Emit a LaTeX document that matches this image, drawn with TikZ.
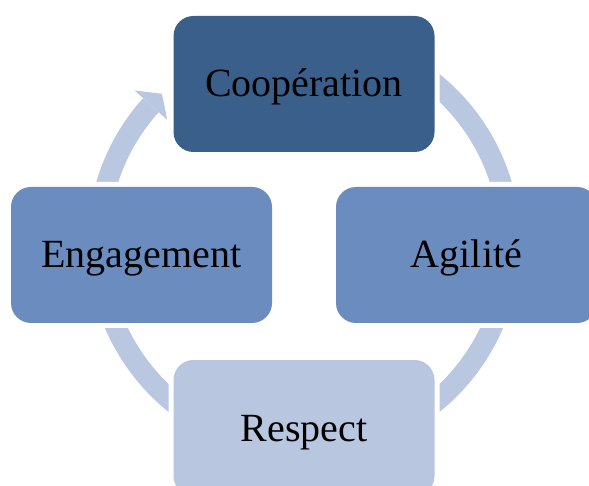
\documentclass[tikz,border=0pt]{standalone}
\usepackage{fontspec}
\setmainfont{Liberation Serif}
\definecolor{cdark}{HTML}{3A5F8A}
\definecolor{cmid}{HTML}{6B8CBF}
\definecolor{clight}{HTML}{B9C6E0}
\definecolor{cring}{HTML}{B9C7E0}
\begin{document}
\begin{tikzpicture}[x=1pt,y=-1pt,
  box/.style={rounded corners=20pt, minimum width=261pt, minimum height=136pt,
    inner sep=0pt, text height=30pt, text depth=4pt,
    font=\fontsize{40}{42}\selectfont, text=black,
    preaction={draw=white,line width=10pt}},
  ring/.style={draw=cring, line width=21pt}]
\useasboundingbox (0,0) rectangle (589,486);
\clip (0,0) rectangle (589,486);
\coordinate (ctr) at (304,243);
\draw[ring] ([shift={(-60:206)}]ctr) arc[start angle=-60,end angle=222,radius=206];
\fill[cring] ([shift={(222:228)}]ctr) -- ([shift={(226.4:206)}]ctr) -- ([shift={(222:184)}]ctr) -- cycle;
\node[box, fill=cdark] (coop) at (304,84) {Coopération};
\node[box, fill=cmid] (agil) at (466.5,255) {Agilité};
\node[box, fill=cmid] (enga) at (141.5,255) {Engagement};
\node[box, fill=clight] (resp) at (304,428) {Respect};
\end{tikzpicture}
\end{document}
